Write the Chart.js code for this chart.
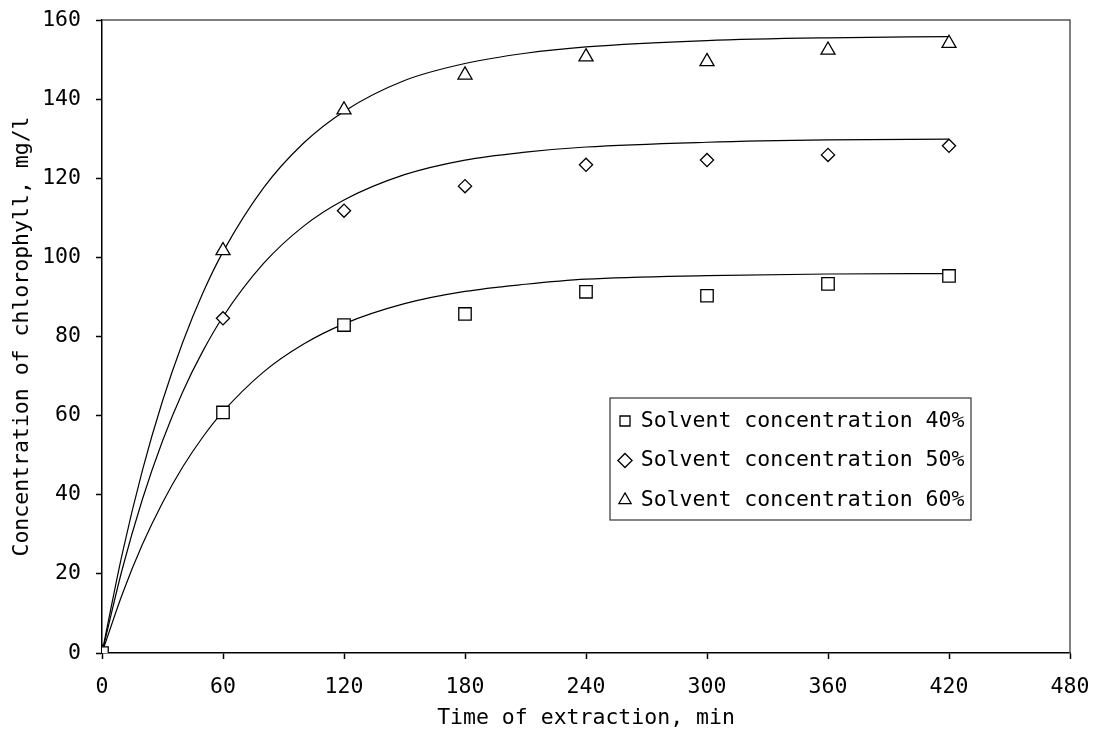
<!DOCTYPE html>
<html><head><meta charset="utf-8">
<script src="https://cdn.jsdelivr.net/npm/chart.js@4.4.1/dist/chart.umd.min.js"></script>
<style>html,body{margin:0;padding:0;background:#fff}#wrap{width:1094px;height:731px;position:relative}</style>
</head><body><div id="wrap"><canvas id="c"></canvas></div>
<script>
// ---- data ----
const sampleTimes = [0, 60, 120, 180, 240, 300, 360, 420];
const measured40 = [0, 60.8, 82.9, 85.7, 91.3, 90.3, 93.3, 95.3];
const measured50 = [0, 84.6, 111.8, 118.0, 123.4, 124.6, 125.9, 128.2];
const measured60 = [0, 101.7, 137.3, 146.1, 150.7, 149.5, 152.4, 154.1];

const fitTimes = [0, 10, 20, 30, 40, 50, 60, 80, 100, 120, 150, 180, 210, 240, 300, 360, 420];
const fit40 = [0, 14.8, 27.4, 38.0, 47.0, 54.6, 61.0, 71.0, 78.1, 83.2, 88.3, 91.4, 93.2, 94.5, 95.4, 95.8, 95.9];
const fit50 = [0, 21.1, 38.8, 53.6, 66.0, 76.3, 85.0, 98.4, 107.9, 114.5, 120.9, 124.6, 126.6, 127.9, 129.1, 129.7, 129.9];
const fit60 = [0, 25.0, 46.1, 63.7, 78.5, 91.0, 101.4, 117.5, 128.9, 136.9, 144.7, 149.0, 151.6, 153.2, 154.8, 155.5, 155.8];

const seriesLabels = ['Solvent concentration 40%', 'Solvent concentration 50%', 'Solvent concentration 60%'];
const xTickValues = [0, 60, 120, 180, 240, 300, 360, 420, 480];
const yTickValues = [0, 20, 40, 60, 80, 100, 120, 140, 160];
const xTitle = 'Time of extraction, min';
const yTitle = 'Concentration of chlorophyll, mg/l';

// ---- build chart ----
const FONT = "'DejaVu Sans Mono', 'Liberation Mono', monospace";
const FS = 21.5;
Chart.defaults.font.family = FONT;
Chart.defaults.font.size = FS;
Chart.defaults.color = '#000';

function pts(xs, ys) { return xs.map((x, i) => ({x: x, y: ys[i]})); }

function markerSet(label, ys, style, r) {
  return {
    label: label, data: pts(sampleTimes, ys), showLine: false,
    pointStyle: style, pointRadius: r, pointHoverRadius: r,
    borderColor: '#000', backgroundColor: '#fff', pointBorderWidth: 1.3, borderWidth: 1.3
  };
}
function curveSet(ys) {
  return {
    label: 'fit', data: pts(fitTimes, ys), showLine: true, pointRadius: 0,
    borderColor: '#000', borderWidth: 1.2, cubicInterpolationMode: 'monotone', fill: false
  };
}

const LEG_PAD = 18;
const LEG_BOX = 10;
const framePlugin = {
  id: 'frame',
  afterLayout(chart) {
    const lg = chart.legend;
    if (!lg) return;
    const w = lg.width, h = lg.height;
    lg.left = 625 - LEG_BOX / 2 - LEG_PAD;
    lg.top = 421 - FS / 2 - LEG_PAD;
    lg.right = lg.left + w;
    lg.bottom = lg.top + h;
  },
  afterDraw(chart) {
    const ctx = chart.ctx, a = chart.chartArea;
    ctx.save();
    ctx.strokeStyle = '#555';
    ctx.lineWidth = 1.5;
    ctx.beginPath();
    ctx.moveTo(a.left, a.top); ctx.lineTo(a.right, a.top); ctx.lineTo(a.right, a.bottom);
    ctx.stroke();
    // legend frame
    ctx.strokeStyle = '#333';
    ctx.lineWidth = 1.2;
    ctx.strokeRect(610, 398, 361, 122);
    ctx.restore();
  }
};

new Chart(document.getElementById('c'), {
  type: 'scatter',
  data: {
    datasets: [
      markerSet(seriesLabels[0], measured40, 'rect', 8.8),
      markerSet(seriesLabels[1], measured50, 'rectRot', 6.6),
      markerSet(seriesLabels[2], measured60, 'triangle', 8.1),
      curveSet(fit40), curveSet(fit50), curveSet(fit60)
    ]
  },
  options: {
    responsive: true, maintainAspectRatio: false, animation: false,
    layout: {autoPadding: false, padding: {left: 0, top: 20, right: 24, bottom: 0}},
    plugins: {
      tooltip: {enabled: false},
      legend: {
        position: 'chartArea', align: 'start',
        labels: {
          usePointStyle: true, boxWidth: LEG_BOX, boxHeight: LEG_BOX, padding: LEG_PAD,
          font: {family: FONT, size: FS}, color: '#000',
          filter: (item) => item.datasetIndex < 3
        }
      }
    },
    scales: {
      x: {
        type: 'linear', min: 0, max: 480,
        afterBuildTicks: (s) => { s.ticks = xTickValues.map(v => ({value: v})); },
        afterFit: (s) => { s.height = 78; s.paddingLeft = 0; s.paddingRight = 0; },
        ticks: {padding: 16, font: {size: FS}, color: '#000', maxRotation: 0},
        grid: {drawOnChartArea: false, drawTicks: true, tickLength: 6, color: '#000', tickWidth: 1.5},
        border: {color: '#000', width: 1.5},
        title: {display: true, text: xTitle, font: {size: FS}, color: '#000', padding: {top: 0, bottom: 0}}
      },
      y: {
        type: 'linear', min: 0, max: 160,
        afterBuildTicks: (s) => { s.ticks = yTickValues.map(v => ({value: v})); },
        afterFit: (s) => { s.width = 102; s.paddingTop = 0; s.paddingBottom = 0; },
        ticks: {padding: 15, font: {size: FS}, color: '#000'},
        grid: {drawOnChartArea: false, drawTicks: true, tickLength: 6, color: '#000', tickWidth: 1.5},
        border: {color: '#000', width: 1.5},
        title: {display: true, text: yTitle, font: {size: FS}, color: '#000', padding: {top: 10, bottom: 0}}
      }
    }
  },
  plugins: [framePlugin]
});
</script>
</body></html>
